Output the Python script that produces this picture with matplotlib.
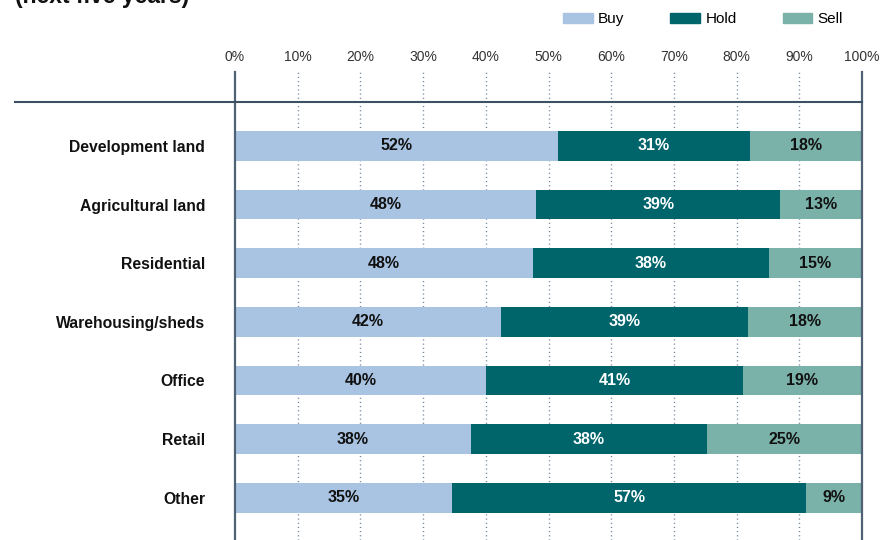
import numpy as np
import matplotlib
matplotlib.use("Agg")
import matplotlib.pyplot as plt
from matplotlib.patches import Patch
import matplotlib.transforms as mtransforms

plt.rcParams["font.family"] = ["Liberation Sans", "DejaVu Sans"]

categories = ["Development land", "Agricultural land", "Residential", "Warehousing/sheds",
              "Office", "Retail", "Other"]
buy = [52, 48, 48, 42, 40, 38, 35]
hold = [31, 39, 38, 39, 41, 38, 57]
sell = [18, 13, 15, 18, 19, 25, 9]
ticks = [0, 10, 20, 30, 40, 50, 60, 70, 80, 90, 100]

c_buy = "#a9c4e2"
c_hold = "#00646b"
c_sell = "#7ab1a8"
c_line = "#4f6275"

W, H = 881, 540
fig = plt.figure(figsize=(W / 100, H / 100), dpi=100)
ax = fig.add_axes([235 / W, 0, (862 - 235) / W, (540 - 72) / H])

buy_a = np.array(buy, float)
hold_a = np.array(hold, float)
sell_a = np.array(sell, float)
tot = buy_a + hold_a + sell_a
b_n = buy_a / tot * 100
h_n = hold_a / tot * 100
s_n = sell_a / tot * 100

y = np.arange(len(categories))
bh = 0.51
ax.barh(y, b_n, height=bh, color=c_buy, zorder=2)
ax.barh(y, h_n, left=b_n, height=bh, color=c_hold, zorder=2)
ax.barh(y, s_n, left=b_n + h_n, height=bh, color=c_sell, zorder=2)

lab_fs = 11.5
for i in range(len(categories)):
    ax.text(b_n[i] / 2, y[i], f"{buy[i]}%", ha="center", va="center",
            fontsize=lab_fs, fontweight="bold", color="#111111", zorder=3)
    ax.text(b_n[i] + h_n[i] / 2, y[i], f"{hold[i]}%", ha="center", va="center",
            fontsize=lab_fs, fontweight="bold", color="white", zorder=3)
    ax.text(b_n[i] + h_n[i] + s_n[i] / 2, y[i], f"{sell[i]}%", ha="center", va="center",
            fontsize=lab_fs, fontweight="bold", color="#111111", zorder=3)

ax.set_xlim(0, 100)
ax.set_ylim(len(categories) - 1 + 0.72, -1.26)

# dotted gridlines between the solid 0% and 100% lines
for t in ticks[1:-1]:
    ax.axvline(t, color="#6f8196", linestyle=(0, (0.8, 2.2)), linewidth=1.0, zorder=0)
ax.axvline(0, color=c_line, linewidth=1.6, zorder=4, clip_on=False)
ax.axvline(100, color=c_line, linewidth=1.6, zorder=4, clip_on=False)

trans = mtransforms.blended_transform_factory(ax.transAxes, ax.transData)
ax.plot([(15 - 235) / (862 - 235), 1], [-0.75, -0.75], color="#3d5063",
        linewidth=1.5, transform=trans, clip_on=False, zorder=4)

for sp in ax.spines.values():
    sp.set_visible(False)

ax.xaxis.tick_top()
ax.set_xticks(ticks)
ax.set_xticklabels([f"{t}%" for t in ticks], fontsize=10, color="#333333")
ax.tick_params(axis="x", length=0, pad=6)
ax.set_yticks(y)
ax.set_yticklabels(categories, fontsize=11.3, fontweight="bold", color="#111111")
ax.tick_params(axis="y", length=0, pad=21.5)

handles = [Patch(color=c_buy, label="Buy"), Patch(color=c_hold, label="Hold"),
           Patch(color=c_sell, label="Sell")]
fig.legend(handles=handles, loc="center left", bbox_to_anchor=(563 / W, 1 - 19 / H), ncol=3,
           frameon=False, fontsize=11, handlelength=1.95, handleheight=0.65,
           columnspacing=3.0, handletextpad=0.35, borderpad=0, borderaxespad=0)

fig.text(15 / W, 1 - 3 / H, "(next five years)", fontsize=16.5, fontweight="bold",
         ha="left", va="baseline", color="#111111")

fig.savefig("out.png", dpi=100)
